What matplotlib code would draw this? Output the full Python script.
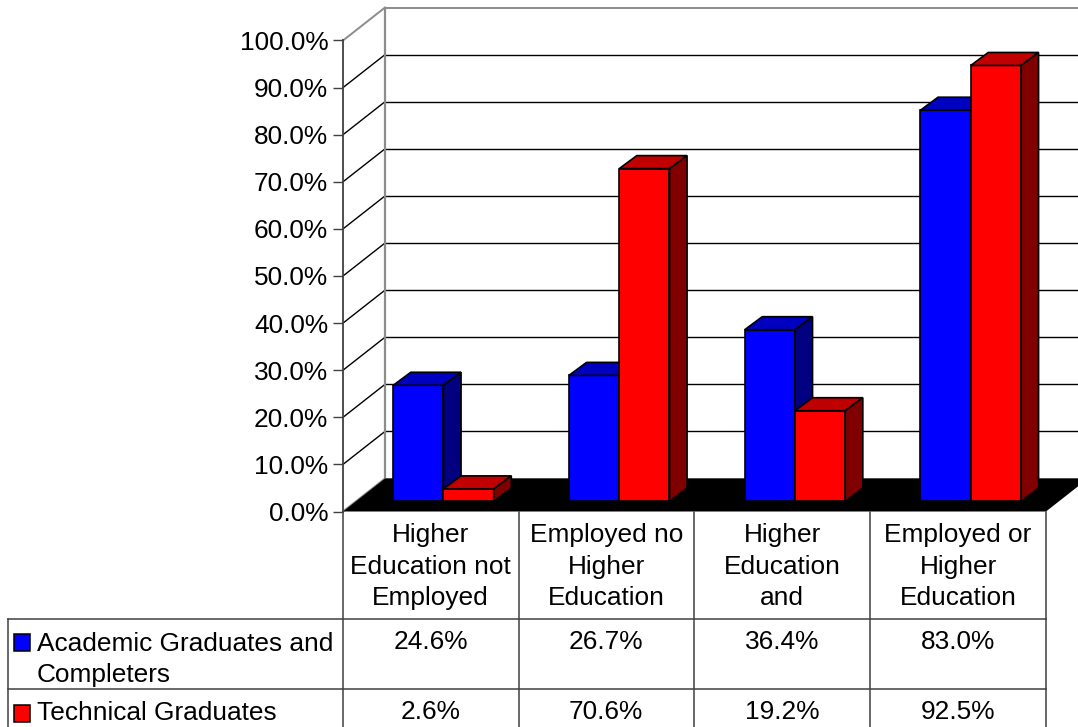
import matplotlib
matplotlib.use("Agg")
import matplotlib.pyplot as plt
from matplotlib.patches import Polygon, Rectangle

plt.rcParams['font.family'] = ['Liberation Sans', 'DejaVu Sans']

# Data
categories = ["Higher\nEducation not\nEmployed", "Employed no\nHigher\nEducation",
              "Higher\nEducation\nand", "Employed or\nHigher\nEducation"]
series_names = ["Academic Graduates and\nCompleters", "Technical Graduates"]
academic = [24.6, 26.7, 36.4, 83.0]
technical = [2.6, 70.6, 19.2, 92.5]
y_ticks = [0, 10, 20, 30, 40, 50, 60, 70, 80, 90, 100]

W, H = 1078, 727
FONT = 18.9

# colours: front, top, side
BLUE = ('#0000ff', '#0000c0', '#000080')
RED = ('#ff0000', '#c00000', '#800000')
GRAY = '#8c8c8c'

# depth of the 3D box in data units
DX, DY = 0.239, 7.0
BAR_W = 0.286
BAR_DX0, BAR_DY0 = 0.0717, 2.2
BAR_DX, BAR_DY = 0.1, 2.76


def draw_bar(ax, x, value, colors):
    x0 = x + BAR_DX0
    x1 = x0 + BAR_W
    y0 = BAR_DY0
    y1 = y0 + value
    kw = dict(edgecolor='black', linewidth=1.2, joinstyle='miter', clip_on=False, zorder=3)
    ax.add_patch(Polygon([(x0, y0), (x1, y0), (x1, y1), (x0, y1)], facecolor=colors[0], **kw))
    ax.add_patch(Polygon([(x0, y1), (x1, y1), (x1 + BAR_DX, y1 + BAR_DY), (x0 + BAR_DX, y1 + BAR_DY)],
                         facecolor=colors[1], **kw))
    ax.add_patch(Polygon([(x1, y0), (x1 + BAR_DX, y0 + BAR_DY), (x1 + BAR_DX, y1 + BAR_DY), (x1, y1)],
                         facecolor=colors[2], **kw))


fig = plt.figure(figsize=(W / 100, H / 100), dpi=100)
fig.patch.set_facecolor('white')

# main axes is the front plane of the 3D box
ax = fig.add_axes([343 / W, (H - 511.5) / H, 703 / W, 471 / H])
ax.patch.set_alpha(0)
ax.set_xlim(0, 4)
ax.set_ylim(0, 100)
for name in ['top', 'right', 'bottom']:
    ax.spines[name].set_visible(False)
ax.spines['left'].set_color('#404040')
ax.spines['left'].set_linewidth(1.3)
ax.set_xticks([])
ax.set_yticks(y_ticks)
ax.set_yticklabels([f"{t:.1f}%" for t in y_ticks], fontsize=FONT, va='center_baseline')
ax.tick_params(axis='y', length=7.2, width=1, color='#404040', pad=3.5)

# back wall grid and side wall diagonals
for t in y_ticks:
    col = GRAY if t in (0, 100) else 'black'
    lw = 1.4 if t in (0, 100) else 1.0
    ax.plot([0, DX], [t, t + DY], color=col, lw=lw, clip_on=False, zorder=1)
    ax.plot([DX, 4 + DX], [t + DY, t + DY], color=col, lw=lw, clip_on=False, zorder=1)
ax.plot([DX, DX], [DY, 100 + DY], color=GRAY, lw=1.6, clip_on=False, zorder=1)

# floor
ax.add_patch(Polygon([(0, 0), (4, 0), (4 + DX, DY), (DX, DY)], facecolor='black',
                     edgecolor='none', clip_on=False, zorder=2))

gap = (1 - 2 * BAR_W) / 2
for i in range(len(categories)):
    draw_bar(ax, i + gap, academic[i], BLUE)
    draw_bar(ax, i + gap + BAR_W, technical[i], RED)

# table underneath, in pixel coordinates
tb = fig.add_axes([0, 0, 1, 1], zorder=5)
tb.set_xlim(0, W)
tb.set_ylim(H, 0)
tb.axis('off')

col_x = [343, 518.5, 694, 870, 1046]
line_col = '#404040'
for x in col_x:
    tb.plot([x, x], [511.5, H], color=line_col, lw=1.1)
tb.plot([7.5, 7.5], [618.5, H], color=line_col, lw=1.1)
tb.plot([7.5, 1046], [618.5, 618.5], color=line_col, lw=1.1)
tb.plot([7.5, 1046], [689, 689], color=line_col, lw=1.1)

for i, cat in enumerate(categories):
    xc = (col_x[i] + col_x[i + 1]) / 2
    for j, part in enumerate(cat.split("\n")):
        tb.text(xc, 535 + j * 31.7, part, ha='center', va='center', fontsize=FONT)
    tb.text(xc, 642, f"{academic[i]:.1f}%", ha='center', va='center', fontsize=FONT)
    tb.text(xc, 712, f"{technical[i]:.1f}%", ha='center', va='center', fontsize=FONT)

# legend keys and row labels
for y, col in [(634, BLUE[0]), (705, RED[0])]:
    tb.add_patch(Rectangle((13.5, y), 16.5, 16.5, facecolor=col, edgecolor='black', lw=1.1))
name_lines = series_names[0].split("\n")
tb.text(37, 644, name_lines[0], ha='left', va='center', fontsize=FONT)
tb.text(37, 675, name_lines[1], ha='left', va='center', fontsize=FONT)
tb.text(37, 713, series_names[1], ha='left', va='center', fontsize=FONT)

fig.savefig("out.png", dpi=100)
